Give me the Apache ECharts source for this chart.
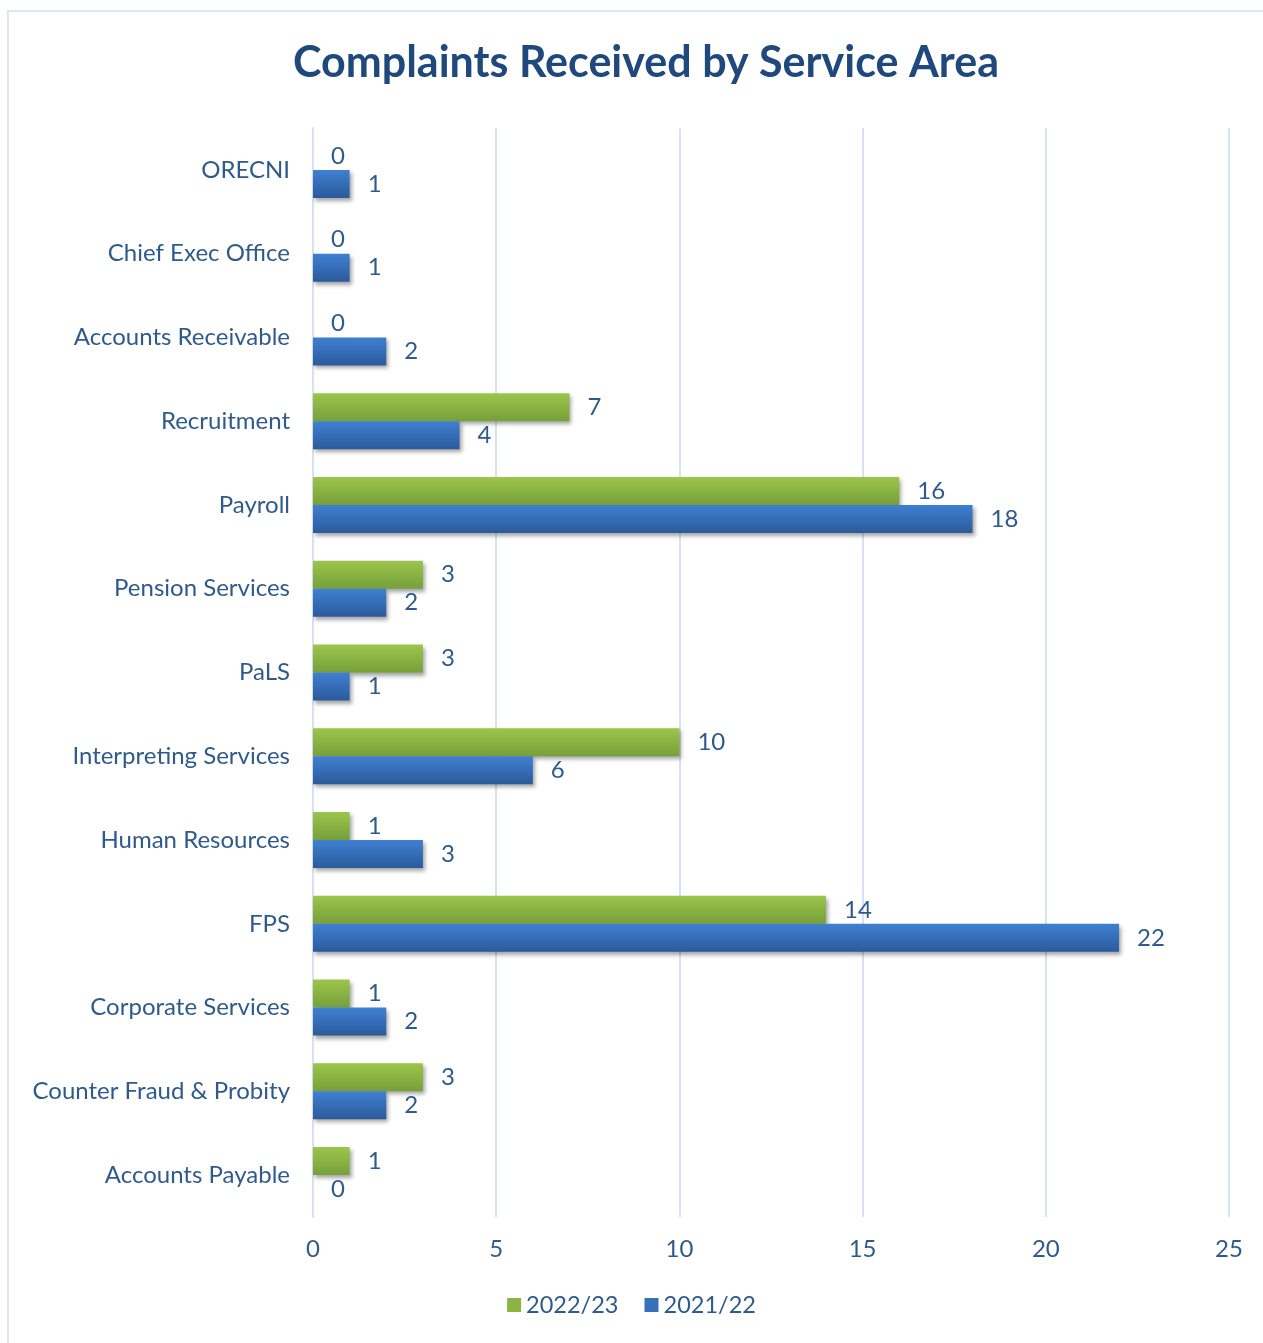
<!DOCTYPE html>
<html>
<head>
<meta charset="utf-8">
<script src="https://cdn.jsdelivr.net/npm/echarts@6/dist/echarts.min.js"></script>
<style>
html,body{margin:0;padding:0;background:#fff;overflow:hidden;}
#frame{position:absolute;left:7px;top:10px;width:1400px;height:1500px;border:2px solid #dce7f5;box-sizing:border-box;}
#chart{position:absolute;left:0;top:0;width:1263px;height:1343px;}
</style>
</head>
<body>
<div id="frame"></div>
<div id="chart"></div>
<script>
const categories = ["ORECNI","Chief Exec Office","Accounts Receivable","Recruitment","Payroll","Pension Services","PaLS","Interpreting Services","Human Resources","FPS","Corporate Services","Counter Fraud & Probity","Accounts Payable"];
const values2223 = [0,0,0,7,16,3,3,10,1,14,1,3,1];
const values2122 = [1,1,2,4,18,2,1,6,3,22,2,2,0];
const xTicks = [0,5,10,15,20,25];

const textColor = '#2f5a8c';
const font = 'Lato';
const shadow = {shadowColor:'rgba(0,0,0,0.35)',shadowBlur:4,shadowOffsetX:2,shadowOffsetY:3};
const green = new echarts.graphic.LinearGradient(0,0,0,1,[{offset:0,color:'#9cc54b'},{offset:1,color:'#76a03a'}]);
const blue = new echarts.graphic.LinearGradient(0,0,0,1,[{offset:0,color:'#3f80d2'},{offset:1,color:'#2b5a9b'}]);

const chart = echarts.init(document.getElementById('chart'));
chart.setOption({
  animation:false,
  title:{text:'Complaints Received by Service Area',left:641,top:37,textAlign:'center',
    textStyle:{fontFamily:font,fontWeight:'bold',fontSize:43,color:'#1f497d'}},
  legend:{bottom:21,left:'center',itemWidth:14,itemHeight:14,itemGap:26,icon:'rect',
    textStyle:{fontFamily:font,fontSize:23.5,color:textColor},
    data:[{name:'2022/23',itemStyle:{color:'#8ab543'}},{name:'2021/22',itemStyle:{color:'#3670bb'}}]},
  grid:{left:313,right:34,top:128,bottom:126,containLabel:false},
  xAxis:{type:'value',min:xTicks[0],max:xTicks[xTicks.length-1],interval:5,
    axisLine:{show:false},axisTick:{show:false},
    splitLine:{show:true,lineStyle:{color:'#d5e2f4',width:2}},
    axisLabel:{fontFamily:font,fontSize:24,color:textColor,margin:20}},
  yAxis:{type:'category',data:categories,inverse:true,
    axisLine:{show:true,lineStyle:{color:'#d5e2f4',width:2}},axisTick:{show:false},
    axisLabel:{fontFamily:font,fontSize:24,color:textColor,margin:23}},
  series:[
    {name:'2022/23',type:'bar',data:values2223,barWidth:28,barGap:'0%',
      itemStyle:Object.assign({color:green},shadow),
      label:{show:true,position:'right',distance:18,fontFamily:font,fontSize:24,color:textColor}},
    {name:'2021/22',type:'bar',data:values2122,barWidth:28,barGap:'0%',
      itemStyle:Object.assign({color:blue},shadow),
      label:{show:true,position:'right',distance:18,fontFamily:font,fontSize:24,color:textColor}}
  ]
});
</script>
</body>
</html>
